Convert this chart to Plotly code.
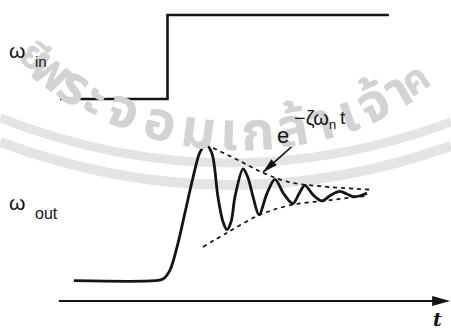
import math
import plotly.graph_objects as go

W, H = 451, 329

# Axis ranges: time in arbitrary units, two amplitude scales (output / input)
T_RANGE = [-1.933, 13.1]
OUT_RANGE = [-0.557, 3.238]
IN_RANGE = [-2.738, 1.179]

# Step input ω_in
t_in = [0.07, 3.65, 11.03]
w_in = [0.0, 1.0, 1.0]

# Under-damped output ω_out
t_out = [0.53, 3.23, 3.50, 3.73, 3.97, 4.23, 4.50, 4.73, 4.93, 5.13, 5.33, 5.50,
         5.63, 5.77, 5.90, 6.17, 6.33, 6.50, 6.70, 6.97, 7.23, 7.53, 7.83, 8.03,
         8.23, 8.50, 8.80, 9.10, 9.40, 9.63, 9.83, 10.07, 10.30]
w_out = [0.00, 0.00, 0.02, 0.12, 0.39, 0.78, 1.19, 1.48, 1.57, 1.47, 0.97, 0.68,
         0.59, 0.68, 0.97, 1.29, 1.19, 0.97, 0.76, 1.01, 1.17, 1.00, 0.89, 1.00,
         1.10, 0.99, 0.92, 0.99, 1.03, 1.00, 0.97, 0.98, 1.01]

# Decay envelope e^{-ζω_n t}
t_env_up = [5.17, 6.07, 6.80, 7.67, 8.73, 10.40]
w_env_up = [1.53, 1.38, 1.25, 1.14, 1.09, 1.05]
t_env_lo = [4.83, 5.67, 6.73, 7.73, 9.07, 10.33]
w_env_lo = [0.39, 0.56, 0.76, 0.87, 0.93, 0.98]

# time axis
t_axis = [0.03, 13.07]
axis_level = -0.234

# envelope pointer (tail -> tip on the upper envelope)
ptr_tail = (7.80, 1.55)
ptr_tip = (6.83, 1.25)

# faint seal in the background: lettering set along an arc (angles in degrees)
seal_chars = ["ยี", "พ", "ร", "ะ", "จ", "อ", "ม", "เ", "ก", "ล้", "า", "เ", "จ้", "า", "ค"]
seal_angle = [-40.5, -36.5, -31.5, -27.0, -21.5, -14.5, -7.5, -2.0, 3.2, 9.5, 15.0, 19.8, 25.0, 29.8, 33.5]
seal_size = [38, 52, 54, 54, 54, 54, 54, 54, 54, 54, 54, 54, 54, 52, 40]

INK = "#141414"
SEAL = "#d3d3d3"
BAND = "#e4e4e4"


def to_px(t, y):
    px = (t - T_RANGE[0]) / (T_RANGE[1] - T_RANGE[0]) * W
    py = H - (y - OUT_RANGE[0]) / (OUT_RANGE[1] - OUT_RANGE[0]) * H
    return px, py


def to_data(px, py):
    t = T_RANGE[0] + px / W * (T_RANGE[1] - T_RANGE[0])
    y = OUT_RANGE[0] + (H - py) / H * (OUT_RANGE[1] - OUT_RANGE[0])
    return t, y


def arrow_head(tail, tip, length, half):
    """Filled triangular head at `tip`, pointing away from `tail`."""
    x0, y0 = to_px(*tail)
    x1, y1 = to_px(*tip)
    dx, dy = x1 - x0, y1 - y0
    n = (dx * dx + dy * dy) ** 0.5
    ux, uy = dx / n, dy / n
    bx, by = x1 - ux * length, y1 - uy * length
    pts = [(x1, y1), (bx - uy * half, by + ux * half), (bx + uy * half, by - ux * half)]
    d = [to_data(*p) for p in pts]
    return "M {} {} L {} {} L {} {} Z".format(d[0][0], d[0][1], d[1][0], d[1][1], d[2][0], d[2][1])


def paper(px, py):
    return px / W, 1 - py / H


fig = go.Figure()

# ---- background seal (beneath the curves) ----
for (y_left, y_mid, y_right, width) in [(118, 163, 122, 9), (142, 185, 146, 10)]:
    p0 = paper(0, y_left)
    p2 = paper(W, y_right)
    c = paper(W / 2, 2 * y_mid - 0.5 * (y_left + y_right))
    fig.add_shape(type="path", xref="paper", yref="paper", layer="below",
                  path="M {} {} Q {} {} {} {}".format(p0[0], p0[1], c[0], c[1], p2[0], p2[1]),
                  line=dict(color=BAND, width=width))

cx, cy, r = 240, -184, 318
for ch, ang, size in zip(seal_chars, seal_angle, seal_size):
    th = math.radians(ang)
    qx, qy = paper(cx + r * math.sin(th), cy + r * math.cos(th))
    fig.add_annotation(x=qx, y=qy, xref="paper", yref="paper", text="<b>" + ch + "</b>",
                       showarrow=False, textangle=-ang,
                       font=dict(family="Noto Sans Thai, Loma, Garuda, Norasi, sans-serif",
                                 size=size, color=SEAL),
                       xanchor="center", yanchor="middle")

# ---- signals ----
fig.add_trace(go.Scatter(x=t_in, y=w_in, yaxis="y2", mode="lines", line_shape="hv",
                         line=dict(color=INK, width=2.6), hoverinfo="skip"))
fig.add_trace(go.Scatter(x=t_env_up, y=w_env_up, mode="lines", line_shape="spline",
                         line=dict(color=INK, width=1.7, dash="4px,4px"), hoverinfo="skip"))
fig.add_trace(go.Scatter(x=t_env_lo, y=w_env_lo, mode="lines", line_shape="spline",
                         line=dict(color=INK, width=1.7, dash="4px,4px"), hoverinfo="skip"))
fig.add_trace(go.Scatter(x=t_out, y=w_out, mode="lines", line_shape="spline",
                         line=dict(color=INK, width=2.8, smoothing=0.9), hoverinfo="skip"))

# time axis line and its arrowhead
fig.add_shape(type="line", x0=t_axis[0], x1=t_axis[1] - 0.3, y0=axis_level, y1=axis_level,
              xref="x", yref="y", line=dict(color=INK, width=2))
fig.add_shape(type="path", xref="x", yref="y",
              path=arrow_head((t_axis[0], axis_level), (t_axis[1], axis_level), 18, 5),
              fillcolor=INK, line=dict(width=0))

# pointer to the envelope
fig.add_shape(type="line", x0=ptr_tail[0], y0=ptr_tail[1], x1=ptr_tip[0], y1=ptr_tip[1],
              xref="x", yref="y", line=dict(color=INK, width=1.5))
fig.add_shape(type="path", xref="x", yref="y",
              path=arrow_head(ptr_tail, ptr_tip, 15, 4),
              fillcolor=INK, line=dict(width=0))

FONT = "Liberation Sans, Arial, sans-serif"
labels = [
    # text, x(px), y(px), size
    ("ω", 17, 50, 21),
    ("in", 41, 61, 15),
    ("ω", 17, 202, 21),
    ("out", 46, 213, 16),
    ("e", 283, 135, 22),
    ("−ζω", 311, 118, 20),
    ("n", 332, 124, 13),
    ("t", 343, 117, 19),
]
for txt, px, py, size in labels:
    tx, ty = to_data(px, py)
    fig.add_annotation(x=tx, y=ty, xref="x", yref="y", text=txt, showarrow=False,
                       font=dict(family=FONT, size=size, color=INK),
                       xanchor="center", yanchor="middle")

tx, ty = to_data(437, 319)
fig.add_annotation(x=tx, y=ty, xref="x", yref="y", text="<b><i>t</i></b>", showarrow=False,
                   font=dict(family="DejaVu Serif, serif", size=19, color=INK),
                   xanchor="center", yanchor="middle")

fig.update_layout(
    width=W, height=H,
    margin=dict(l=0, r=0, t=0, b=0),
    paper_bgcolor="white", plot_bgcolor="rgba(0,0,0,0)",
    showlegend=False,
    xaxis=dict(range=T_RANGE, visible=False, fixedrange=True),
    yaxis=dict(range=OUT_RANGE, visible=False, fixedrange=True),
    yaxis2=dict(range=IN_RANGE, visible=False, overlaying="y", fixedrange=True),
)

fig.write_html("out.html")
